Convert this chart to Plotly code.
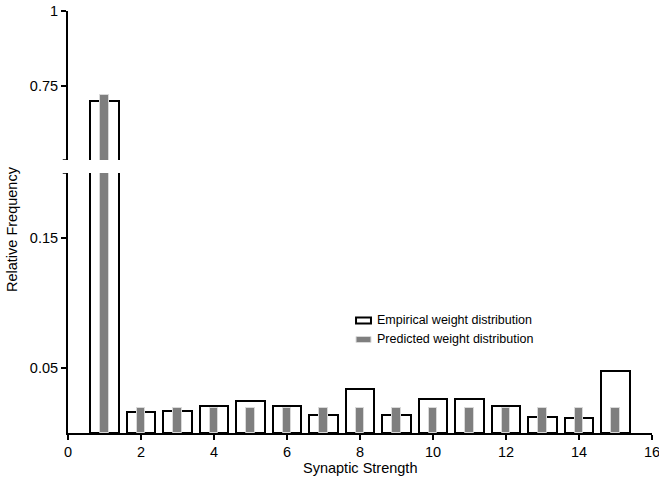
import plotly.graph_objects as go

# Synaptic strength bins and relative frequencies
strength = list(range(1, 16))
empirical = [0.698, 0.016, 0.017, 0.021, 0.0248, 0.0207, 0.0142, 0.034,
             0.0137, 0.026, 0.0264, 0.0209, 0.0124, 0.0119, 0.048]
predicted = [0.718, 0.0196, 0.0196, 0.0196, 0.0196, 0.0196, 0.0196, 0.0196,
             0.0196, 0.0196, 0.0196, 0.0196, 0.0196, 0.0196, 0.0196]

x_ticks = list(range(0, 17, 2))
low_ticks = [0.05, 0.15]
low_text = ["0.05", "0.15"]
high_ticks = [0.75, 1]
high_text = ["0.75", "1"]
# limits of the two halves of the broken axis
low_range = [0, 0.2]
high_range = [0.5, 1]

FONT = "Liberation Sans, Arial, Helvetica, sans-serif"
GRAY = "#7f7f7f"
EDGE = "#d9d9d9"

fig = go.Figure()

# the same bars are drawn on both halves of the broken y-axis
for yax in ("y", "y2"):
    fig.add_trace(go.Bar(
        x=strength, y=empirical, xaxis="x", yaxis=yax, width=0.78,
        marker=dict(color="white", line=dict(color="black", width=2)),
        name="Empirical weight distribution", showlegend=False,
    ))
    fig.add_trace(go.Bar(
        x=strength, y=predicted, xaxis="x", yaxis=yax, width=0.24,
        marker=dict(color=GRAY, line=dict(color=EDGE, width=1)),
        name="Predicted weight distribution", showlegend=False,
    ))

axis_common = dict(
    showline=True, linecolor="black", linewidth=2, showgrid=False,
    zeroline=False, ticks="outside", ticklen=5, tickwidth=1.5,
    tickcolor="black", tickfont=dict(family=FONT, size=14.5, color="black"),
    ticklabeloverflow="allow", automargin=False,
)

fig.update_layout(
    width=659, height=480,
    margin=dict(l=68, r=7, t=11, b=47, autoexpand=False),
    paper_bgcolor="white", plot_bgcolor="white",
    barmode="overlay", bargap=0,
    showlegend=False,
    font=dict(family=FONT, color="black"),
    xaxis=dict(range=[0, 16], tickmode="array", tickvals=x_ticks,
               anchor="y", **axis_common),
    yaxis=dict(domain=[0, 0.6161], range=low_range, tickmode="array",
               tickvals=low_ticks, ticktext=low_text, anchor="x",
               **axis_common),
    yaxis2=dict(domain=[0.6469, 1], range=high_range, tickmode="array",
                tickvals=high_ticks, ticktext=high_text, anchor="x",
                **axis_common),
)

# end ticks marking the axis break
fig.add_shape(type="line", xref="paper", yref="y", x0=-0.009, x1=0,
              y0=low_range[1], y1=low_range[1], layer="above",
              line=dict(color="black", width=1.5))
fig.add_shape(type="line", xref="paper", yref="y2", x0=-0.009, x1=0,
              y0=high_range[0], y1=high_range[0], layer="above",
              line=dict(color="black", width=1.5))

# axis titles
fig.add_annotation(text="Synaptic Strength", xref="paper", yref="paper",
                   x=0.5, y=-0.083, xanchor="center", yanchor="middle",
                   showarrow=False, font=dict(family=FONT, size=14.5))
fig.add_annotation(text="Relative Frequency", xref="paper", yref="paper",
                   x=-0.0959, y=0.4834, xanchor="center", yanchor="middle",
                   textangle=-90, showarrow=False,
                   font=dict(family=FONT, size=14.5))

# legend drawn as swatches plus labels
fig.add_shape(type="rect", xref="paper", yref="paper",
              x0=0.4932, x1=0.5188, y0=0.2595, y1=0.2737,
              fillcolor="white", line=dict(color="black", width=2))
fig.add_shape(type="rect", xref="paper", yref="paper",
              x0=0.4932, x1=0.5188, y0=0.2144, y1=0.2287,
              fillcolor=GRAY, line=dict(color=EDGE, width=1))
fig.add_annotation(text="Empirical weight distribution", xref="paper",
                   yref="paper", x=0.5257, y=0.2666, xanchor="left",
                   yanchor="middle", showarrow=False,
                   font=dict(family=FONT, size=12.5))
fig.add_annotation(text="Predicted weight distribution", xref="paper",
                   yref="paper", x=0.5257, y=0.2216, xanchor="left",
                   yanchor="middle", showarrow=False,
                   font=dict(family=FONT, size=12.5))

fig.write_html("out.html")
